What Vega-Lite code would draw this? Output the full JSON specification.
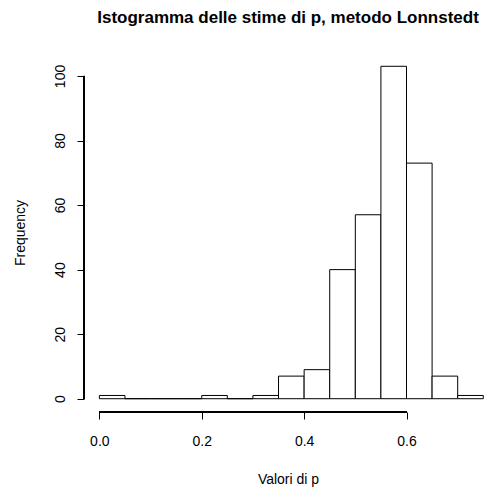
{
  "$schema": "https://vega.github.io/schema/vega-lite/v6.json",
  "width": 408,
  "height": 359,
  "autosize": "none",
  "padding": {"left": 84, "top": 53, "right": 0, "bottom": 78},
  "background": "white",
  "title": {"text": "Istogramma delle stime di p, metodo Lonnstedt", "font": "Liberation Sans", "fontSize": 17, "fontWeight": "bold", "color": "black", "anchor": "middle", "offset": 26},
  "config": {
    "view": {"stroke": null},
    "axis": {"labelFont": "Liberation Sans", "titleFont": "Liberation Sans", "labelFontSize": 14, "titleFontSize": 14, "titleFontWeight": "normal", "labelColor": "black", "titleColor": "black", "tickColor": "black", "tickSize": 7, "domain": false, "grid": false}
  },
  "data": {"values": [
    {"start": 0.00, "end": 0.05, "count": 1},
    {"start": 0.05, "end": 0.10, "count": 0},
    {"start": 0.10, "end": 0.15, "count": 0},
    {"start": 0.15, "end": 0.20, "count": 0},
    {"start": 0.20, "end": 0.25, "count": 1},
    {"start": 0.25, "end": 0.30, "count": 0},
    {"start": 0.30, "end": 0.35, "count": 1},
    {"start": 0.35, "end": 0.40, "count": 7},
    {"start": 0.40, "end": 0.45, "count": 9},
    {"start": 0.45, "end": 0.50, "count": 40},
    {"start": 0.50, "end": 0.55, "count": 57},
    {"start": 0.55, "end": 0.60, "count": 103},
    {"start": 0.60, "end": 0.65, "count": 73},
    {"start": 0.65, "end": 0.70, "count": 7},
    {"start": 0.70, "end": 0.75, "count": 1}
  ]},
  "layer": [
    {
      "mark": {"type": "bar", "fill": "white", "stroke": "black", "strokeWidth": 1},
      "encoding": {
        "x": {"field": "start", "type": "quantitative", "scale": {"domain": [-0.03, 0.767], "nice": false, "zero": false},
              "axis": {"values": [0, 0.2, 0.4, 0.6], "format": ".1f", "title": "Valori di p", "labelPadding": 15, "titlePadding": 24}},
        "x2": {"field": "end"},
        "y": {"field": "count", "type": "quantitative", "scale": {"domain": [-4.12, 107.12], "nice": false, "zero": false},
              "axis": {"values": [0, 20, 40, 60, 80, 100], "title": "Frequency", "labelAngle": -90, "labelAlign": "center", "labelBaseline": "bottom", "labelPadding": 10, "titlePadding": 26}},
        "y2": {"datum": 0}
      }
    },
    {
      "mark": {"type": "rule", "color": "black", "strokeWidth": 1},
      "encoding": {"x": {"datum": 0}, "x2": {"datum": 0.6}, "y": {"datum": -4.12}}
    },
    {
      "mark": {"type": "rule", "color": "black", "strokeWidth": 1},
      "encoding": {"x": {"datum": -0.03}, "y": {"datum": 0}, "y2": {"datum": 100}}
    }
  ]
}
